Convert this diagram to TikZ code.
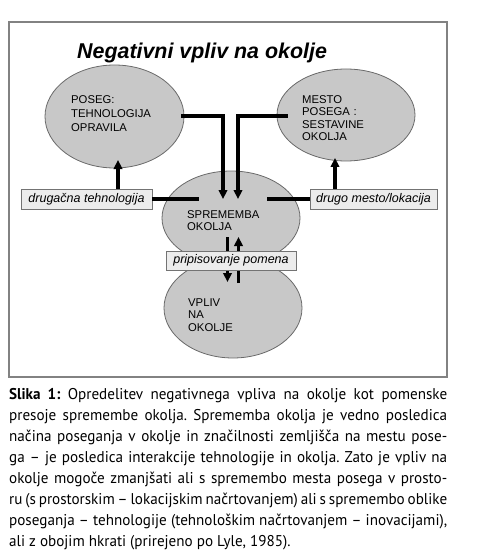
\documentclass[tikz,border=0pt]{standalone}
\usepackage{fontspec}
\setmainfont{Liberation Sans}
\newfontfamily\capfont[FakeStretch=0.97]{PT Sans}
\usetikzlibrary{shapes.geometric,arrows.meta,calc}
\definecolor{ellfill}{RGB}{200,200,200}
\definecolor{ellline}{RGB}{105,105,105}
\definecolor{boxfill}{RGB}{236,236,236}
\definecolor{boxline}{RGB}{115,115,115}
\definecolor{framecol}{RGB}{130,130,130}
\frenchspacing
\begin{document}
\begin{tikzpicture}[x=1pt,y=-1pt,
  ell/.style={ellipse, fill=ellfill, draw=ellline, line width=0.8pt, inner sep=0pt},
  lbl/.style={anchor=base west, inner sep=0pt, text width=110pt, align=left,
              font=\fontsize{11.3}{12.5}\selectfont},
  tag/.style={draw=boxline, fill=boxfill, line width=0.9pt, inner sep=0pt,
              minimum height=20pt, font=\fontsize{12.5}{14}\selectfont\itshape},
  arr/.style={line width=3.1pt, -{Triangle[length=9pt,width=8.5pt]}},
  ln/.style={line width=3.1pt}]
\useasboundingbox (0,0) rectangle (491,556);
\node[draw=framecol, line width=1.2pt, minimum width=438pt, minimum height=355pt, inner sep=0pt] (frame) at (228,199.5) {};
% title
\node[anchor=base west, inner sep=0pt, font=\fontsize{21.4}{25}\selectfont\bfseries\itshape] (title) at (77,58.3) {Negativni vpliv na okolje};
% ellipses
\node[ell, minimum width=139pt, minimum height=103pt] (poseg) at (114.5,116.5) {};
\node[ell, minimum width=138pt, minimum height=92pt] (mesto) at (346,115) {};
\node[ell, minimum width=138pt, minimum height=100pt] (vpliv) at (233,308) {};
\node[ell, minimum width=138pt, minimum height=94pt] (spr) at (231,218) {};
% ellipse texts
\node[lbl, font=\fontsize{11.3}{13.8}\selectfont] (tposeg) at (71,104) {POSEG:\\TEHNOLOGIJA\\OPRAVILA};
\node[lbl] (tmesto) at (302,103.3) {MESTO\\POSEGA :\\SESTAVINE\\OKOLJA};
\node[lbl] (tspr) at (187,218.3) {SPREMEMBA\\OKOLJA};
\node[lbl, font=\fontsize{11.3}{12.2}\selectfont] (tvpliv) at (188,306.7) {VPLIV\\NA\\OKOLJE};
% coordinates
\coordinate (inL) at (223,199);
\coordinate (inR) at (238,199);
\coordinate (eL) at (199,199);
\coordinate (eR) at (267,199);
\coordinate (sA) at (227.5,237);
\coordinate (vA) at (227.5,282);
\coordinate (vB) at (238.5,283);
\coordinate (sB) at (238.5,237);
\coordinate (tipL) at (118,160);
\coordinate (tipR) at (335,158);
% small arrows between spr and vpliv (behind the label box)
\draw[arr] (sA) -- (vA);
\draw[arr] (vB) -- (sB);
% side boxes
\node[tag, minimum width=131pt] (boxL) at (86.5,199) {drugačna tehnologija};
\node[tag, minimum width=127pt] (boxR) at (373.5,199) {drugo mesto/lokacija};
\node[tag, minimum width=130pt, minimum height=19pt] (boxP) at (231,260.5) {pripisovanje pomena};
% connectors
\draw[arr] ($(poseg.east)+(-3,-0.5)$) -| (inL);
\draw[arr] ($(mesto.west)+(11,1)$) -| (inR);
\draw[ln] (boxL.east) -- (eL);
\draw[ln] (boxR.west) -- (eR);
\draw[arr] (boxL.north -| tipL) -- (tipL);
\draw[arr] (boxR.north -| tipR) -- (tipR);
% caption
\node[anchor=base west, inner sep=0pt, text width=438pt, align=justify,
      font=\capfont\fontsize{15.6}{21}\selectfont] (cap) at (9,399.3)
{\tolerance=10000\hyphenpenalty=10000\parindent=0pt\frenchspacing
\textbf{Slika 1:} Opredelitev negativnega vpliva na okolje kot pomenske\linebreak
presoje spremembe okolja. Sprememba okolja je vedno posledica\linebreak
načina poseganja v okolje in značilnosti zemljišča na mestu pose-\linebreak
ga – je posledica interakcije tehnologije in okolja. Zato je vpliv na\linebreak
okolje mogoče zmanjšati ali s spremembo mesta posega v prosto-\linebreak
ru (s prostorskim – lokacijskim načrtovanjem) ali s spremembo oblike\linebreak
poseganja – tehnologije (tehnološkim načrtovanjem – inovacijami),\linebreak
ali z obojim hkrati (prirejeno po Lyle, 1985).};
\end{tikzpicture}
\end{document}
